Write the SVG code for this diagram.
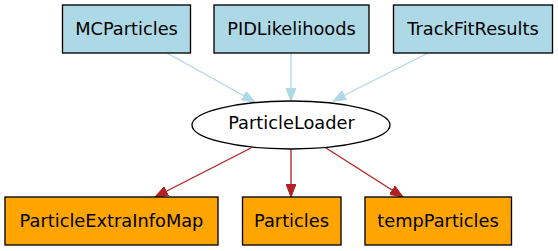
<svg xmlns="http://www.w3.org/2000/svg" width="558" height="251" viewBox="0 0 558 251">
<style>
text{font-family:"DejaVu Sans",sans-serif;font-size:17.8px;text-anchor:middle;fill:#000}
.in rect{fill:#add8e6;stroke:#000;stroke-width:1.33}
.out rect{fill:#ffa500;stroke:#000;stroke-width:1.33}
.blue{stroke:#add8e6;stroke-width:1.33;fill:none;marker-end:url(#ab)}
.red{stroke:#b22222;stroke-width:1.33;fill:none;marker-end:url(#ar)}
</style>
<defs>
<marker id="ab" viewBox="0 0 13 10" refX="13" refY="5" markerWidth="13" markerHeight="10" markerUnits="userSpaceOnUse" orient="auto"><path d="M0,0 L13,5 L0,10 z" fill="#add8e6" stroke="#add8e6"/></marker>
<marker id="ar" viewBox="0 0 13 10" refX="13" refY="5" markerWidth="13" markerHeight="10" markerUnits="userSpaceOnUse" orient="auto"><path d="M0,0 L13,5 L0,10 z" fill="#b22222" stroke="#b22222"/></marker>
</defs>
<rect width="558" height="251" fill="#fff"/>
<g id="connectors">
<path class="blue" d="M167,53 L255,102"/>
<path class="blue" d="M291,53 L291,101"/>
<path class="blue" d="M428,53 L333,101"/>
<path class="red" d="M251,148 L155,197"/>
<path class="red" d="M291,149 L291,197"/>
<path class="red" d="M326,148 L403,197"/>
</g>
<g id="MCParticles" class="in"><rect x="62.5" y="5" width="128" height="48"/><text x="126.5" y="34.5">MCParticles</text></g>
<g id="PIDLikelihoods" class="in"><rect x="214" y="5" width="155" height="48"/><text x="291.5" y="34.5">PIDLikelihoods</text></g>
<g id="TrackFitResults" class="in"><rect x="393.5" y="5" width="159" height="48"/><text x="473" y="34.5">TrackFitResults</text></g>
<g id="ParticleLoader"><ellipse cx="291" cy="125" rx="99" ry="24" fill="#fff" stroke="#000" stroke-width="1.33"/><text x="291.5" y="129">ParticleLoader</text></g>
<g id="ParticleExtraInfoMap" class="out"><rect x="5" y="197" width="213" height="48"/><text x="111.5" y="226.5">ParticleExtraInfoMap</text></g>
<g id="Particles" class="out"><rect x="242.5" y="197" width="98.5" height="48"/><text x="291.5" y="226.5">Particles</text></g>
<g id="tempParticles" class="out"><rect x="365" y="197" width="146.5" height="48"/><text x="438" y="226.5">tempParticles</text></g>
</svg>
